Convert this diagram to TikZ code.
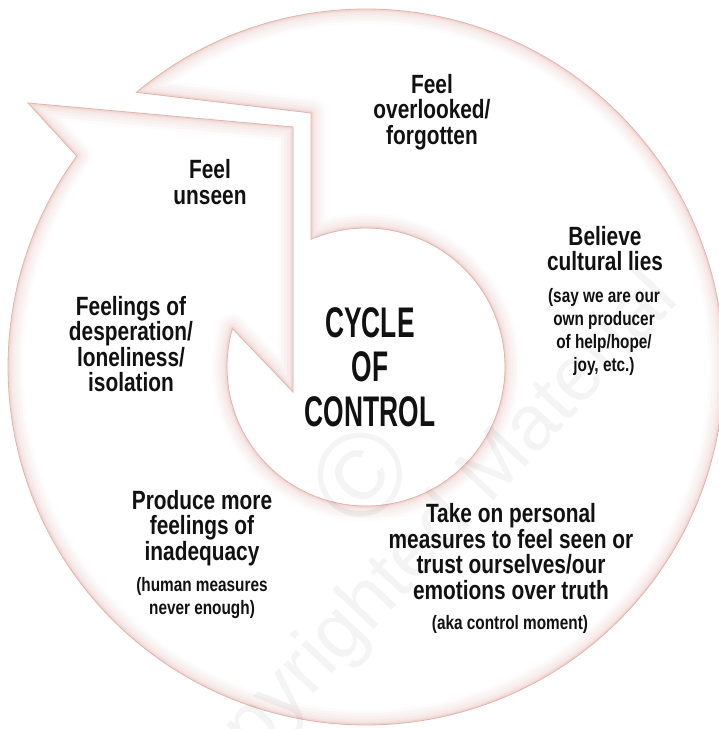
\documentclass[tikz,border=0pt]{standalone}
\usepackage{fontspec}
\newfontfamily\lblfont{Liberation Sans}[FakeStretch=0.79]
\newfontfamily\ttlfont{Liberation Sans}[FakeStretch=0.615]
\newfontfamily\wmfont{Liberation Sans}
\definecolor{edgecol}{RGB}{226,180,175}
\definecolor{glowcol}{RGB}{225,165,160}
\definecolor{inkcol}{RGB}{17,17,17}
\begin{document}
\begin{tikzpicture}[x=1bp,y=-1bp,
  lbl/.style={align=center, inner sep=0pt, text=inkcol, font=\lblfont\bfseries\fontsize{26.5}{25.5}\selectfont},
  sublbl/.style={align=center, inner sep=0pt, text=inkcol, font=\lblfont\bfseries\fontsize{19.5}{23}\selectfont},
  ttl/.style={align=center, inner sep=0pt, text=inkcol, font=\ttlfont\bfseries\fontsize{43}{44.5}\selectfont},
  wm/.style={inner sep=0pt, text=black, text opacity=0.045, font=\wmfont\fontsize{79}{80}\selectfont}]
\useasboundingbox (0,0) rectangle (719,729);
\clip (0,0) rectangle (719,729);
\fill[white] (0,0) rectangle (719,729);
% circular arrow band
\path[save path=\arrowpath]
  plot[domain=-129.9:216.1, samples=260] ({366+358*cos(\x)},{367+358*sin(\x)})
  -- (28,103) -- (293,127) -- (293,392) -- (232.4,328.5)
  -- plot[domain=196.1:-113.3, samples=220] ({366+139*cos(\x)},{367+139*sin(\x)})
  -- (311,113) -- cycle;
\fill[white, use path=\arrowpath];
\begin{scope}
  \clip[use path=\arrowpath];
  \foreach \w/\o in {30/0.04, 24/0.05, 18/0.06, 12/0.08, 7/0.11, 3.5/0.18}
    \draw[glowcol, line width=\w bp, opacity=\o, line join=round, use path=\arrowpath];
\end{scope}
\draw[edgecol, line width=0.8bp, line join=miter, use path=\arrowpath];
% labels
\node[lbl] (overlooked) at (432,112) {Feel\\overlooked/\\forgotten};
\node[lbl] (unseen) at (210,182) {Feel\\unseen};
\node[lbl] (believe) at (605,248.5) {Believe\\cultural lies};
\node[sublbl] (believesub) at (604,332) {(say we are our\\own producer\\of help/hope/\\joy, etc.)};
\node[lbl] (desperation) at (131,344) {Feelings of\\desperation/\\loneliness/\\isolation};
\node[ttl] (title) at (370,367) {CYCLE\\OF\\CONTROL};
\node[lbl] (produce) at (202,528) {Produce more\\feelings of\\inadequacy};
\node[sublbl] (producesub) at (202,598) {(human measures\\never enough)};
\node[lbl] (takeon) at (511,551.5) {Take on personal\\measures to feel seen or\\trust ourselves/our\\emotions over truth};
\node[sublbl] (takeonsub) at (510,624) {(aka control moment)};
% watermark
\node[wm, rotate=47, font=\wmfont\fontsize{120}{120}\selectfont] (wmsym) at (360,475) {©};
\node[wm, rotate=47] (wmtext) at (418,552) {Copyrighted Material};
\end{tikzpicture}
\end{document}
